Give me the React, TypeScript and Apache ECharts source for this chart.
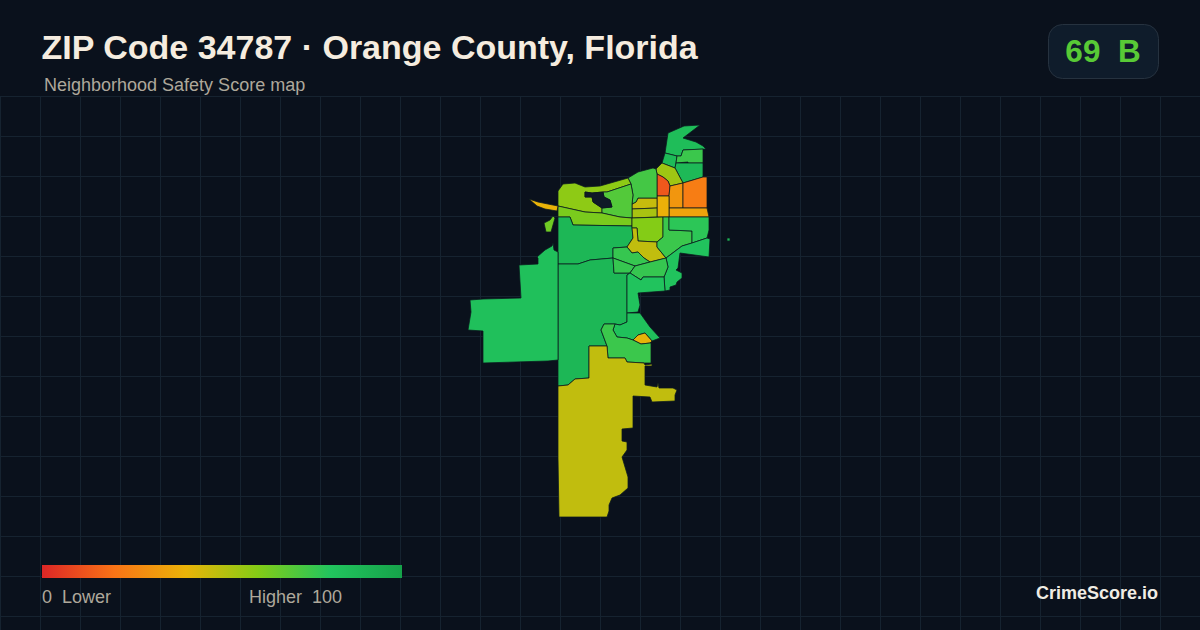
import React, { useEffect, useRef } from "react";
import * as echarts from "echarts";

const TITLE = "ZIP Code 34787 · Orange County, Florida";
const SUBTITLE = "Neighborhood Safety Score map";
const BADGE = "69  B";
const LEGEND_LOW = "0  Lower";
const LEGEND_HIGH = "Higher  100";
const BRAND = "CrimeScore.io";
const RAMP = ["#dc2626", "#f97316", "#eab308", "#84cc16", "#22c55e", "#16a34a"];

// Neighbourhood outlines (page pixels)
const outlines: Record<string, number[][]> = {
  A: [[668,133],[684,126],[700,125],[683,138],[696,142],[703,146],[706,149],[683,150],[681,156],[677,156],[665,153]],
  B: [[665,153],[677,156],[676,163],[675,168],[662,163]],
  C: [[683,150],[703,149],[703,163],[688,163],[688,162],[676,163],[677,156],[681,156]],
  D: [[676,163],[703,163],[703,177],[683,183],[675,168]],
  E: [[662,163],[675,168],[683,183],[670,186],[668,181],[663,177],[657,174],[656,169]],
  F: [[657,174],[663,177],[668,181],[670,186],[669,196],[657,196]],
  G: [[670,186],[683,183],[683,208],[669,208],[669,196]],
  H: [[683,183],[703,177],[707,177],[707,208],[683,208]],
  I: [[669,208],[707,208],[709,217],[669,217]],
  J: [[657,196],[669,196],[669,217],[657,217]],
  K: [[632,204],[636,202],[638,198],[657,198],[657,208],[632,209]],
  K2: [[632,209],[657,208],[657,217],[632,218]],
  L: [[628,178],[638,172],[653,168],[656,169],[657,174],[657,198],[638,198],[636,202],[632,204],[633,195],[631,184]],
  N: [[558,206],[558,191],[563,184],[575,183],[585,187],[600,186],[628,178],[631,184],[607,192],[603,192],[592,193],[585,192],[585,197],[592,197],[593,202],[602,208],[602,213],[585,212]],
  O: [[631,184],[633,195],[632,204],[632,218],[620,217],[602,213],[602,208],[612,207],[610,200],[604,197],[603,192],[607,192]],
  Hole: [[585,192],[592,193],[603,192],[604,197],[610,200],[612,207],[602,208],[593,202],[592,197],[585,197]],
  P: [[558,206],[585,212],[602,213],[620,217],[632,218],[632,226],[573,225],[570,217],[558,217]],
  R: [[558,217],[570,217],[573,225],[632,226],[633,238],[627,247],[613,248],[613,258],[590,260],[578,264],[558,264]],
  S: [[558,264],[578,264],[590,260],[613,258],[614,273],[630,273],[627,275],[627,322],[620,325],[615,324],[604,324],[601,330],[607,346],[589,346],[589,378],[575,379],[568,385],[558,386]],
  T: [[519,265],[538,264],[538,258],[537,257],[545,250],[552,246],[553,243],[554,250],[558,252],[558,360],[548,361],[483,363],[483,331],[468,330],[471,312],[470,300],[483,299],[521,298]],
  U: [[544,223],[550,220],[553,216],[555,218],[553,225],[551,232],[546,232]],
  Sliver: [[529,199],[538,202],[558,206],[557,211],[545,209],[537,206]],
  V: [[632,218],[663,217],[663,237],[657,242],[638,241],[637,228],[632,228]],
  W: [[632,228],[637,228],[638,241],[657,242],[657,247],[666,258],[650,262],[644,258],[638,252],[632,253],[627,247],[633,238]],
  X: [[663,217],[669,217],[669,230],[692,231],[692,243],[682,246],[666,258],[657,247],[657,242],[663,237]],
  Y: [[669,217],[709,217],[709,230],[707,238],[692,243],[692,231],[669,230]],
  Z: [[666,258],[682,246],[692,243],[707,238],[710,239],[709,257],[680,253],[678,268],[676,270],[682,273],[682,278],[677,282],[676,285],[670,287],[670,290],[665,291],[664,277],[668,267]],
  CC: [[613,248],[627,247],[632,253],[638,252],[644,258],[650,262],[635,266],[613,258]],
  DD: [[613,258],[635,266],[630,273],[614,273]],
  EE: [[635,266],[650,262],[666,258],[668,267],[664,277],[643,277],[641,280],[630,273]],
  FF: [[627,275],[630,273],[641,280],[643,277],[664,277],[665,291],[638,293],[640,305],[638,312],[627,313]],
  GG: [[627,313],[640,313],[650,327],[660,338],[652,341],[645,333],[638,335],[633,340],[627,338],[617,337],[613,330],[615,324],[620,325],[627,322]],
  HH: [[633,340],[638,335],[645,333],[652,341],[650,343],[641,344]],
  II: [[604,324],[615,324],[613,330],[617,337],[627,338],[633,340],[641,344],[650,343],[651,343],[651,363],[644,363],[627,362],[625,358],[608,358],[607,346],[601,330]],
  JJ: [[589,346],[607,346],[608,358],[625,358],[627,362],[644,363],[645,365],[652,364],[652,366],[645,366],[645,385],[657,387],[658,383],[659,388],[673,388],[677,390],[675,395],[675,401],[652,402],[650,397],[633,396],[633,428],[622,429],[622,441],[627,442],[627,450],[622,457],[628,477],[628,488],[620,495],[612,498],[609,505],[609,511],[607,517],[559,517],[558,458],[558,386],[568,385],[575,379],[589,378]],
  Dot: [[727,238],[730,238],[730,241],[727,241]],
};

// Safety score of each neighbourhood
const regionNames = ["A","B","C","D","E","F","G","H","I","J","K","K2","L","N","O","P","R","S","T","U","Sliver","V","W","X","Y","Z","CC","DD","EE","FF","GG","HH","II","JJ","Dot"];
const regionScores = [85,86,75,87,55,13,31,23,35,39,47,53,73,58,70,62,88,88,83,64,40,60,48,75,78,81,76,76,76,81,83,41,75,48,88];

const geoJson = {
  type: "FeatureCollection",
  features: Object.keys(outlines).map((name) => ({
    type: "Feature",
    properties: { name },
    geometry: { type: "Polygon", coordinates: [[...outlines[name], outlines[name][0]]] },
  })),
};

const GRID_STEP = 40;
const gridXs = Array.from({ length: 30 }, (_, i) => i * GRID_STEP + 0.5);
const gridYs = Array.from({ length: 14 }, (_, i) => i * GRID_STEP + 96.5);

export default function App() {
  const ref = useRef<HTMLDivElement>(null);
  useEffect(() => {
    if (!ref.current) return;
    const chart = echarts.init(ref.current, undefined, { renderer: "svg" });
    echarts.registerMap("zip34787", geoJson as any);
    const gridStyle = { stroke: "#162330", lineWidth: 1 };
    const font = "Liberation Sans, Arial, sans-serif";
    const legendFill = new echarts.graphic.LinearGradient(
      0, 0, 1, 0,
      RAMP.map((color, i) => ({ offset: i / (RAMP.length - 1), color }))
    );
    chart.setOption({
      animation: false,
      backgroundColor: "#0a111c",
      visualMap: {
        type: "continuous",
        show: false,
        seriesIndex: 0,
        min: 0,
        max: 100,
        inRange: { color: RAMP },
      },
      series: [
        {
          type: "map",
          map: "zip34787",
          projection: { project: (p: number[]) => p, unproject: (p: number[]) => p },
          left: 468,
          top: 125,
          width: 262,
          height: 392,
          roam: false,
          silent: true,
          label: { show: false },
          itemStyle: { areaColor: "#0f1a27", borderColor: "#0b1a1f", borderWidth: 0.75 },
          emphasis: { disabled: true },
          select: { disabled: true },
          data: regionNames.map((name, i) => ({ name, value: regionScores[i] })),
        },
      ],
      graphic: [
        ...gridXs.map((x) => ({ type: "line", silent: true, z: -1, shape: { x1: x, y1: 96, x2: x, y2: 630 }, style: gridStyle })),
        ...gridYs.map((y) => ({ type: "line", silent: true, z: -1, shape: { x1: 0, y1: y, x2: 1200, y2: y }, style: gridStyle })),
        { type: "rect", shape: { x: 42, y: 565, width: 360, height: 13 }, style: { fill: legendFill } },
        { type: "text", x: 41.5, y: 47, style: { text: TITLE, fill: "#f5ecdf", font: `bold 34px ${font}`, verticalAlign: "middle" } },
        { type: "text", x: 44, y: 85, style: { text: SUBTITLE, fill: "#aea89b", font: `18px ${font}`, verticalAlign: "middle" } },
        { type: "rect", shape: { x: 1048.5, y: 24.5, width: 110, height: 54, r: 14 }, style: { fill: "#0f1c2b", stroke: "#26323f", lineWidth: 1 } },
        { type: "text", x: 1103, y: 51, style: { text: BADGE, fill: "#58c936", font: `bold 31.5px ${font}`, align: "center", verticalAlign: "middle" } },
        { type: "text", x: 42, y: 597, style: { text: LEGEND_LOW, fill: "#aea89b", font: `18px ${font}`, verticalAlign: "middle" } },
        { type: "text", x: 342, y: 597, style: { text: LEGEND_HIGH, fill: "#aea89b", font: `18px ${font}`, align: "right", verticalAlign: "middle" } },
        { type: "text", x: 1158, y: 593, style: { text: BRAND, fill: "#f0ece4", font: `bold 18px ${font}`, align: "right", verticalAlign: "middle" } },
      ],
    });
    return () => chart.dispose();
  }, []);
  return <div ref={ref} style={{ position: "fixed", left: 0, top: 0, width: 1200, height: 630 }} />;
}
